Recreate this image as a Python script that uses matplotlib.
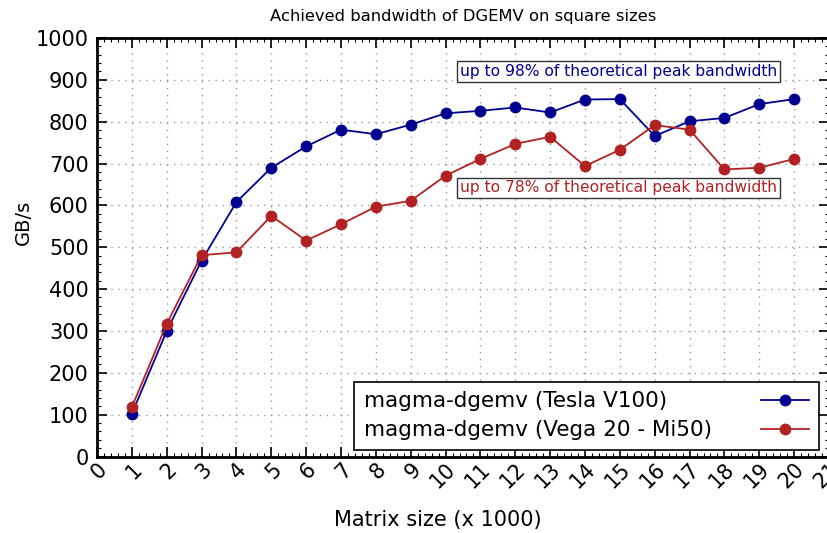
import matplotlib
matplotlib.use("Agg")
import matplotlib.pyplot as plt
from matplotlib.ticker import MultipleLocator
from matplotlib.transforms import ScaledTranslation

sizes = [1, 2, 3, 4, 5, 6, 7, 8, 9, 10, 11, 12, 13, 14, 15, 16, 17, 18, 19, 20]
v100 = [102, 300, 468, 608, 690, 741, 781, 770, 793, 820, 826, 834, 822, 853, 854, 766, 801, 809, 842, 854]
mi50 = [118, 317, 481, 488, 575, 516, 555, 597, 611, 671, 711, 747, 764, 694, 733, 792, 781, 686, 690, 711]
xticks = list(range(0, 22))
yticks = list(range(0, 1001, 100))
label_v100 = "magma-dgemv (Tesla V100)"
label_mi50 = "magma-dgemv (Vega 20 - Mi50)"
note_v100 = "up to 98% of theoretical peak bandwidth"
note_mi50 = "up to 78% of theoretical peak bandwidth"

blue = "#000090"
red = "#b22222"

plt.rcParams['font.family'] = ['DejaVu Sans']

fig = plt.figure(figsize=(8.27, 5.33), dpi=100)
ax = fig.add_axes([0.1173, 0.1435, 0.8851, 0.7852])

ax.plot(sizes, v100, '-o', color=blue, lw=1.3, ms=7.5, label=label_v100, zorder=3)
ax.plot(sizes, mi50, '-o', color=red, lw=1.3, ms=7.5, label=label_mi50, zorder=3)

ax.set_xlim(0, 21)
ax.set_ylim(0, 1000)
ax.set_xticks(xticks)
ax.set_yticks(yticks)
ax.xaxis.set_minor_locator(MultipleLocator(0.2))
ax.yaxis.set_minor_locator(MultipleLocator(20))
ax.tick_params(which='major', direction='in', length=7, width=1.2, top=True, right=True,
               labelsize=15)
ax.tick_params(axis='y', which='major', pad=6)
ax.tick_params(axis='x', which='major', pad=2)
ax.tick_params(which='minor', direction='in', length=3, width=0.8, top=True, right=True)
ax.set_xticklabels([str(t) for t in xticks], rotation=45, ha='right', va='top',
                   rotation_mode='anchor')
shift = ScaledTranslation(0.0, 0, fig.dpi_scale_trans)
for lab in ax.get_xticklabels():
    lab.set_transform(lab.get_transform() + shift)
ax.grid(True, which='major', color='#999999', linestyle=(0, (1, 4)), lw=1.0)
for s in ax.spines.values():
    s.set_linewidth(2)

ax.set_title("Achieved bandwidth of DGEMV on square sizes", fontsize=11.8, pad=12)
ax.set_ylabel("GB/s", fontsize=14, va='center')
ax.yaxis.set_label_coords(-0.101, 0.5586)
ax.set_xlabel("Matrix size (x 1000)", fontsize=15, va='center')
ax.xaxis.set_label_coords(0.465, -0.152)

bbox = dict(boxstyle='square,pad=0.18', fc='white', ec='#333333', lw=1)
ax.text(10.42, 920, note_v100, color=blue, fontsize=11.2, ha='left', va='center', bbox=bbox, zorder=4)
ax.text(10.42, 642, note_mi50, color=red, fontsize=11.2, ha='left', va='center', bbox=bbox, zorder=4)

leg = ax.legend(loc='lower right', bbox_to_anchor=(0.9857, 0.0155), fontsize=15.5, markerfirst=False,
                frameon=True, fancybox=False, edgecolor='black', framealpha=1,
                handlelength=2.2, handletextpad=2.3, borderpad=0.45, labelspacing=0.42,
                borderaxespad=0)
leg.get_frame().set_linewidth(1.2)
leg.set_zorder(5)

# left-justify legend texts (gnuplot style: text left, sample right)
fig.canvas.draw()
texts = leg.get_texts()
widths = [t.get_window_extent().width for t in texts]
maxw = max(widths)
rows = []
for col in leg._legend_handle_box.get_children():
    rows.extend(col.get_children())
for row, w in zip(rows, widths):
    row.sep = row.sep + (maxw - w) * 72.0 / fig.dpi

fig.savefig("out.png", dpi=100)
